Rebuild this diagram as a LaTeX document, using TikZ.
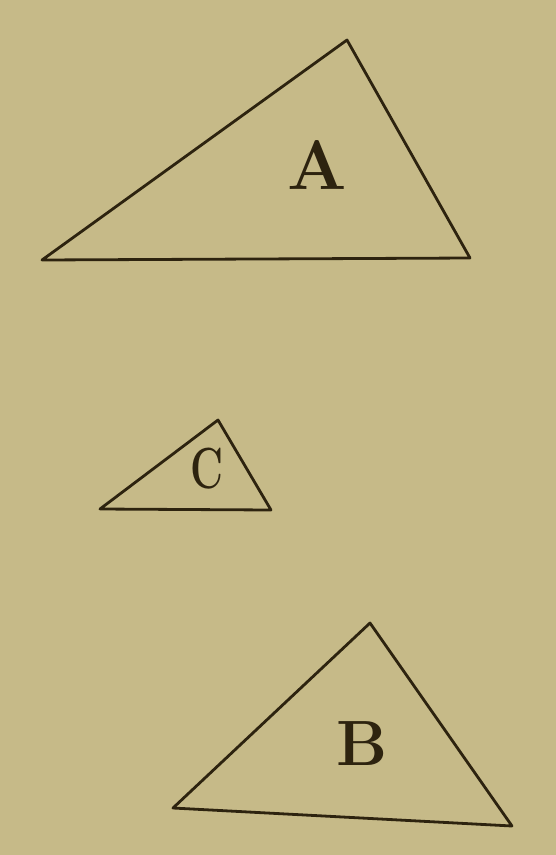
\documentclass[tikz,border=0pt]{standalone}
\usepackage{xcolor}
\definecolor{paper}{RGB}{198,186,136}
\definecolor{ink}{RGB}{45,35,15}
\tikzset{
  tri/.style={draw=ink, line width=2.8pt, line join=round, line cap=round},
  lbl/.style={text=ink, inner sep=0pt}
}
\begin{document}
\begin{tikzpicture}[x=1pt,y=-1pt]
\fill[paper] (0,0) rectangle (556,855);
\useasboundingbox (0,0) rectangle (556,855);
% Triangle A
\coordinate (a1) at (42,260);
\coordinate (a2) at (347,40);
\coordinate (a3) at (470,258);
\draw[tri] (a1) -- (a2) -- (a3) -- cycle;
\node[lbl, font=\fontsize{70}{70}\selectfont\bfseries] (la) at (317,165) {A};
% Triangle C
\coordinate (c1) at (100,509);
\coordinate (c2) at (218,420);
\coordinate (c3) at (271,510);
\draw[tri] (c1) -- (c2) -- (c3) -- cycle;
\node[lbl, xscale=0.7, font=\fontsize{58}{58}\selectfont\bfseries] (lc) at (207,469) {C};
% Triangle B
\coordinate (b1) at (173,808);
\coordinate (b2) at (370,623);
\coordinate (b3) at (512,826);
\draw[tri] (b1) -- (b2) -- (b3) -- cycle;
\node[lbl, font=\fontsize{64}{64}\selectfont\bfseries] (lb) at (362,744) {B};
\end{tikzpicture}
\end{document}
